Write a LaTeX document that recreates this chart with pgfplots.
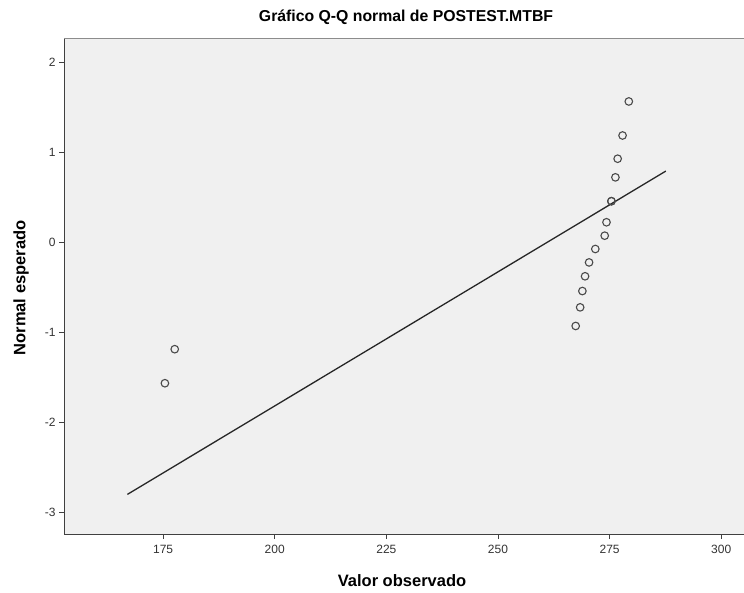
\documentclass[border=0pt]{standalone}
\usepackage{fontspec}
\setmainfont{Liberation Sans}
\usepackage{pgfplots}
\pgfplotsset{compat=1.18}

\definecolor{plotbg}{HTML}{F0F0F0}
\definecolor{ptcol}{HTML}{4A4A4A}

\begin{document}
\begin{tikzpicture}[x=1pt,y=1pt]
\begin{axis}[
    at={(0,0)}, anchor=south west,
    scale only axis,
    width=680pt, height=496pt,
    xmin=152.8, xmax=305.1,
    ymin=-3.24, ymax=2.27,
    xtick={175,200,225,250,275,300},
    ytick={-3,-2,-1,0,1,2},
    xtick pos=bottom, ytick pos=left,
    tick align=outside,
    major tick length=5pt,
    tick style={black!75, line width=0.8pt},
    axis line style={draw=none},
    axis background/.style={fill=plotbg},
    /pgf/number format/assume math mode=true,
    ticklabel style={font=\fontsize{12}{14}\selectfont, text=black!80},
    xticklabel style={yshift=-3pt},
    yticklabel style={xshift=0pt},
    clip=false,
]
% fitted normal reference line
\addplot[black!85, line width=1.3pt] coordinates {(167.0,-2.80) (287.6,0.792)};

% observed values vs expected normal quantiles
\addplot[only marks, mark=o, mark size=3.8pt,
         mark options={draw=ptcol, line width=1.1pt}] coordinates {
    (175.4,-1.565) (177.6,-1.187)
    (267.4,-0.929) (268.4,-0.722) (268.9,-0.541) (269.5,-0.377)
    (270.4,-0.223) (271.8,-0.074) (273.9,0.074) (274.3,0.223)
    (275.4,0.457) (275.4,0.457) (276.3,0.722) (276.8,0.929)
    (277.9,1.187) (279.3,1.565)
};
\end{axis}
% frame: dark left and bottom, light top
\draw[black!75, line width=1pt] (0,496) -- (0,0) -- (680,0);
\draw[black!45, line width=0.8pt] (0,496) -- (680,496);

\node[font=\bfseries\fontsize{15.8}{18}\selectfont] at (342,517) {Gráfico Q-Q normal de POSTEST.MTBF};
\node[font=\bfseries\fontsize{16.5}{19}\selectfont] at (338,-47) {Valor observado};
\node[font=\bfseries\fontsize{16.5}{19}\selectfont, rotate=90] at (-43,246) {Normal esperado};

\pgfresetboundingbox
\path (-64,-58) rectangle (680,534);
\end{tikzpicture}
\end{document}
